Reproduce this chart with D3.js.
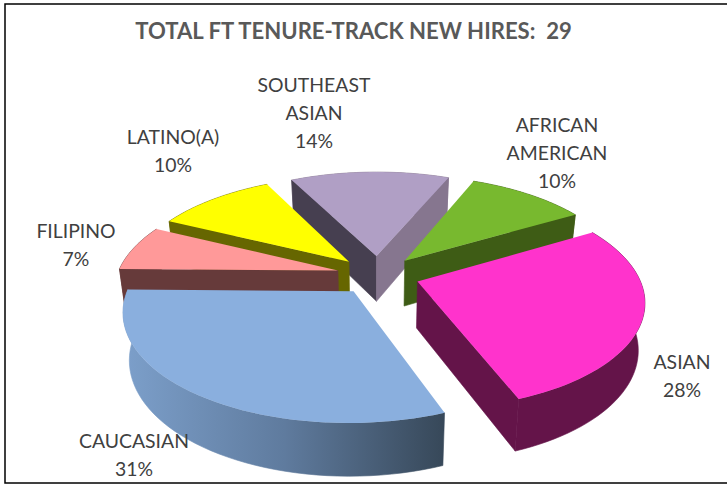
<!DOCTYPE html>
<html><head><meta charset="utf-8">
<script src="https://cdn.jsdelivr.net/npm/d3@7"></script>
<style>html,body{margin:0;padding:0;background:#fff}svg{display:block}</style>
</head><body><svg id="c" width="727" height="485"></svg>
<script>
const titleText = "TOTAL FT TENURE-TRACK NEW HIRES:  29";
const categories = ["SOUTHEAST ASIAN","AFRICAN AMERICAN","ASIAN","CAUCASIAN","FILIPINO","LATINO(A)"];
const labelLines = [["SOUTHEAST","ASIAN"],["AFRICAN","AMERICAN"],["ASIAN"],["CAUCASIAN"],["FILIPINO"],["LATINO(A)"]];
const hires = [4,3,8,9,2,3];
const topColors = ["#b09fc5","#78b92f","#ff33cc","#8aafde","#ff9999","#ffff00"];
const startWallColors = ["#463f50","#3e5c15","#641449","#3f5066","#663a3a","#666600"];
const endWallColors = ["#86768f","#3e5c15","#641449","#3f5066","#663a3a","#666600"];
const rimColors = ["#86768f","#3e5c15","#641449","url(#caucWall)","#663a3a","#666600"];
const labelCenters = [[314,85],[557,125],[682,362],[134,441],[76,231],[173,137]];

const W=727,H=485,cx=378,cy=275,R=213,tilt=0.47,persp=0.16,persp0=0.965,explode=40/213,depth=45,shrink=0.975;
const svg=d3.select("#c");
const defs=svg.append("defs");
const g=defs.append("linearGradient").attr("id","caucWall").attr("gradientUnits","userSpaceOnUse")
  .attr("x1",125).attr("x2",444).attr("y1",0).attr("y2",0);
g.append("stop").attr("offset",0).attr("stop-color","#7c9fca");
g.append("stop").attr("offset",0.5).attr("stop-color","#5f7b9e");
g.append("stop").attr("offset",1).attr("stop-color","#374859");

const arcs=d3.pie().sort(null).value(d=>d).startAngle(-27*Math.PI/180).endAngle(333*Math.PI/180)(hires);
function project(X,Y,low){
  const s=1/(persp0+persp*Y);
  let x=cx+R*X*s, y=cy-R*tilt*Y*s;
  if(low){x=cx+(x-cx)*shrink; y+=depth*(1+0.65*(s-1));}
  return [x,y];
}
const line=d3.line();
function rimPts(a,i,low){
  const mid=(a.startAngle+a.endAngle)/2, ex=explode*Math.sin(mid), ey=explode*Math.cos(mid);
  const n=48, out=[];
  for(let k=0;k<=n;k++){
    const t=a.startAngle+(a.endAngle-a.startAngle)*k/n;
    out.push(project(ex+Math.sin(t),ey+Math.cos(t),low));
  }
  return {apex:project(ex,ey,low),rim:out};
}
const order=[0,1,5,4,2,3];
const root=svg.append("g");
order.forEach(i=>{
  const a=arcs[i],topP=rimPts(a,i,false),lowP=rimPts(a,i,true);
  const G=root.append("g").attr("class","slice");
  G.append("path").attr("d",line([...topP.rim,...lowP.rim.slice().reverse()])+"Z").attr("fill",rimColors[i]).attr("stroke",rimColors[i]).attr("stroke-width",0.6);
  if(Math.sin(a.startAngle)<0) G.append("path").attr("d",line([topP.apex,topP.rim[0],lowP.rim[0],lowP.apex])+"Z").attr("fill",startWallColors[i]).attr("stroke",startWallColors[i]).attr("stroke-width",0.6);
  if(Math.sin(a.endAngle)>0){const n=topP.rim.length-1;G.append("path").attr("d",line([topP.apex,topP.rim[n],lowP.rim[n],lowP.apex])+"Z").attr("fill",endWallColors[i]).attr("stroke",endWallColors[i]).attr("stroke-width",0.6);}
  G.append("path").attr("d",line([topP.apex,...topP.rim])+"Z").attr("fill",topColors[i]);
});
const total=d3.sum(hires);
const fmt=d3.format(".0%");
const lab=svg.append("g").attr("font-family","Lato, 'Open Sans', sans-serif").attr("font-size",19.4).attr("fill","#404040").attr("text-anchor","middle");
labelLines.forEach((ls,i)=>{
  const t=lab.append("text");
  [...ls,fmt(hires[i]/total)].forEach((s,k)=>t.append("tspan").attr("x",labelCenters[i][0]).attr("y",labelCenters[i][1]+7+k*28).text(s));
});
svg.append("text").attr("x",353.5).attr("y",39).attr("text-anchor","middle").attr("font-family","Lato, 'Open Sans', sans-serif").attr("font-weight",700).attr("font-size",22.1).attr("fill","#595959").style("white-space","pre").text(titleText);
svg.append("rect").attr("x",5).attr("y",4).attr("width",780).attr("height",479).attr("fill","none").attr("stroke","#000").attr("stroke-width",1.5);
</script></body></html>
